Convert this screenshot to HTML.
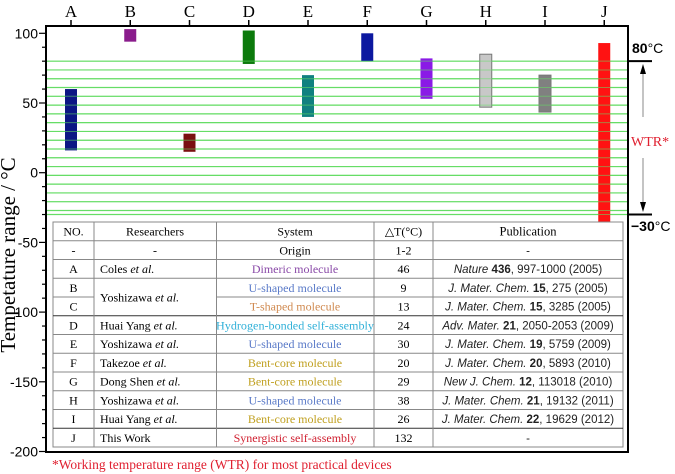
<!DOCTYPE html>
<html><head><meta charset="utf-8"><style>
html,body{margin:0;padding:0;background:#fff;}
svg{display:block;}
.s{font-family:"Liberation Serif",serif;}
.a{font-family:"Liberation Sans",sans-serif;}
</style></head><body>
<svg id="c" width="675" height="474" viewBox="0 0 675 474" xmlns="http://www.w3.org/2000/svg"></svg>
<script>
const categories=['A','B','C','D','E','F','G','H','I','J'];
const lowVals=[16,94,15,78,40,80,53,47,43.5,-40];
const highVals=[60,103,28,102,70,100,82,85,70,93];
const barColors=['#0c1684','#8a1c8c','#7a1010','#0c7a0c','#108080','#0c18a0','#8a1ae6','#c8c8c8','#808080','#ff1212'];
const yTicks=[100,50,0,-50,-100,-150,-200];
const gridVals=[80,73.7,67.4,61.1,54.8,48.5,42.2,35.9,29.6,23.3,17,10.7,4.4,-1.9,-8.2,-14.5,-20.8,-27.1,-30];
const rows=[
['NO.','Researchers','System','△T(°C)','Publication'],
['-','-','Origin','1-2','-'],
['A','Coles <tspan font-style="italic">et al.</tspan>','Dimeric molecule','46','<tspan font-style="italic">Nature</tspan> <tspan font-weight="bold">436</tspan>, 997-1000 (2005)'],
['B','','U-shaped molecule','9','<tspan font-style="italic">J. Mater. Chem.</tspan> <tspan font-weight="bold">15</tspan>, 275 (2005)'],
['C','','T-shaped molecule','13','<tspan font-style="italic">J. Mater. Chem.</tspan> <tspan font-weight="bold">15</tspan>, 3285 (2005)'],
['D','Huai Yang <tspan font-style="italic">et al.</tspan>','Hydrogen-bonded self-assembly','24','<tspan font-style="italic">Adv. Mater.</tspan> <tspan font-weight="bold">21</tspan>, 2050-2053 (2009)'],
['E','Yoshizawa <tspan font-style="italic">et al.</tspan>','U-shaped molecule','30','<tspan font-style="italic">J. Mater. Chem.</tspan> <tspan font-weight="bold">19</tspan>, 5759 (2009)'],
['F','Takezoe <tspan font-style="italic">et al.</tspan>','Bent-core molecule','20','<tspan font-style="italic">J. Mater. Chem.</tspan> <tspan font-weight="bold">20</tspan>, 5893 (2010)'],
['G','Dong Shen <tspan font-style="italic">et al.</tspan>','Bent-core molecule','29','<tspan font-style="italic">New J. Chem.</tspan> <tspan font-weight="bold">12</tspan>, 113018 (2010)'],
['H','Yoshizawa <tspan font-style="italic">et al.</tspan>','U-shaped molecule','38','<tspan font-style="italic">J. Mater. Chem.</tspan> <tspan font-weight="bold">21</tspan>, 19132 (2011)'],
['I','Huai Yang <tspan font-style="italic">et al.</tspan>','Bent-core molecule','26','<tspan font-style="italic">J. Mater. Chem.</tspan> <tspan font-weight="bold">22</tspan>, 19629 (2012)'],
['J','This Work','Synergistic self-assembly','132','-']];
const sysColors=['#000','#000','#8a4aa8','#5a7ac8','#d08a50','#30b0d8','#5a7ac8','#c0a020','#c0a020','#5a7ac8','#c0a020','#d02030'];

const L=46,R=628,T=26,B=452;
const y=v=>172.7-v*1.394;
const x=i=>71+i*59.25;
let h='';
gridVals.forEach(v=>{h+=`<line x1="${L}" x2="${R}" y1="${y(v)}" y2="${y(v)}" stroke="#66dd66" stroke-width="1.2"/>`;});
categories.forEach((c,i)=>{
 h+=`<rect x="${x(i)-6}" y="${y(highVals[i])}" width="12" height="${y(lowVals[i])-y(highVals[i])}" fill="${barColors[i]}" stroke="${i==7||i==8?'#777':'none'}" stroke-width="1"/>`;
 h+=`<line x1="${x(i)}" x2="${x(i)}" y1="${T}" y2="${T-6}" stroke="#000" stroke-width="1.5"/>`;
 h+=`<text class="s" x="${x(i)}" y="17" font-size="17" text-anchor="middle">${c}</text>`;
});
gridVals.forEach(v=>{h+=`<line x1="${L}" x2="${R}" y1="${y(v)}" y2="${y(v)}" stroke="#66dd66" stroke-width="1" opacity="0.55"/>`;});
const TL=53,TR=623,TT=222,rh=18.75,cols=[53,94,216.5,374,433,623];
h+=`<g><rect x="${TL}" y="${TT}" width="${TR-TL}" height="${rh*12}" fill="#fff" stroke="#888"/>`;
for(let r=1;r<12;r++){const yy=TT+r*rh; if(r==4){h+=`<line x1="${cols[0]}" x2="${cols[1]}" y1="${yy}" y2="${yy}" stroke="#888"/><line x1="${cols[2]}" x2="${TR}" y1="${yy}" y2="${yy}" stroke="#888"/>`;} else h+=`<line x1="${TL}" x2="${TR}" y1="${yy}" y2="${yy}" stroke="${r==5||r==11?'#333':'#888'}"/>`;}
cols.slice(1,5).forEach(cx=>{h+=`<line x1="${cx}" x2="${cx}" y1="${TT}" y2="${TT+rh*12}" stroke="#888"/>`;});
rows.forEach((row,r)=>{
 const yy=TT+r*rh+13.5;
 h+=`<text class="s" x="73.5" y="${yy}" font-size="12" text-anchor="middle">${row[0]}</text>`;
 if(r<2) h+=`<text class="s" x="155" y="${yy}" font-size="12" text-anchor="middle">${row[1]}</text>`;
 else if(row[1]) h+=`<text class="s" x="100" y="${yy}" font-size="12">${row[1]}</text>`;
 const tl=r==5?' textLength="158" lengthAdjust="spacingAndGlyphs"':'';
 h+=`<text class="s" x="295" y="${yy}" font-size="12" text-anchor="middle" fill="${sysColors[r]}"${tl}>${row[2]}</text>`;
 h+=`<text class="s" x="403.5" y="${yy}" font-size="12" text-anchor="middle">${row[3]}</text>`;
 h+=`<text class="${r==0?'s':'a'}" x="528" y="${yy}" font-size="${r==0?12.5:11.5}" text-anchor="middle" fill="${r==0?'#000':'#222'}">${row[4]}</text>`;
});
h+=`<text class="s" x="100" y="${TT+3*rh+23}" font-size="12">Yoshizawa <tspan font-style="italic">et al.</tspan></text></g>`;
h+=`<rect x="${L}" y="${T}" width="${R-L}" height="${B-T}" fill="none" stroke="#000" stroke-width="2"/>`;
for(let v=100;v>=-200;v-=10){const big=v%50==0;h+=`<line x1="${L}" x2="${L-(big?7:4)}" y1="${y(v)}" y2="${y(v)}" stroke="#000" stroke-width="1.2"/>`;}
yTicks.forEach(v=>{h+=`<text class="a" x="38" y="${y(v)+5}" font-size="14" text-anchor="end">${v}</text>`;});
h+=`<text class="s" transform="translate(15,255) rotate(-90)" font-size="21" text-anchor="middle">Tempetature range / °C</text>`;
h+=`<g>
<line x1="629" x2="652" y1="${y(80)}" y2="${y(80)}" stroke="#000" stroke-width="2"/>
<line x1="629" x2="652" y1="${y(-30)}" y2="${y(-30)}" stroke="#000" stroke-width="2"/>
<text class="a" x="632" y="53" font-size="14" font-weight="bold">80<tspan font-weight="normal">°C</tspan></text>
<text class="a" x="631" y="231" font-size="14" font-weight="bold">−30<tspan font-weight="normal">°C</tspan></text>
<line x1="643" x2="643" y1="72" y2="117" stroke="#888"/><polygon points="643,64 640,74 646,74" fill="#000"/>
<line x1="643" x2="643" y1="158" y2="203" stroke="#888"/><polygon points="643,212 640,202 646,202" fill="#000"/>
<text class="s" x="631" y="146" font-size="14" fill="#e02030">WTR*</text></g>`;
h+=`<text class="s" x="52" y="469" font-size="13.5" fill="#e02030">*Working temperature range (WTR) for most practical devices</text>`;
document.getElementById('c').innerHTML=h;
</script>
</body></html>
